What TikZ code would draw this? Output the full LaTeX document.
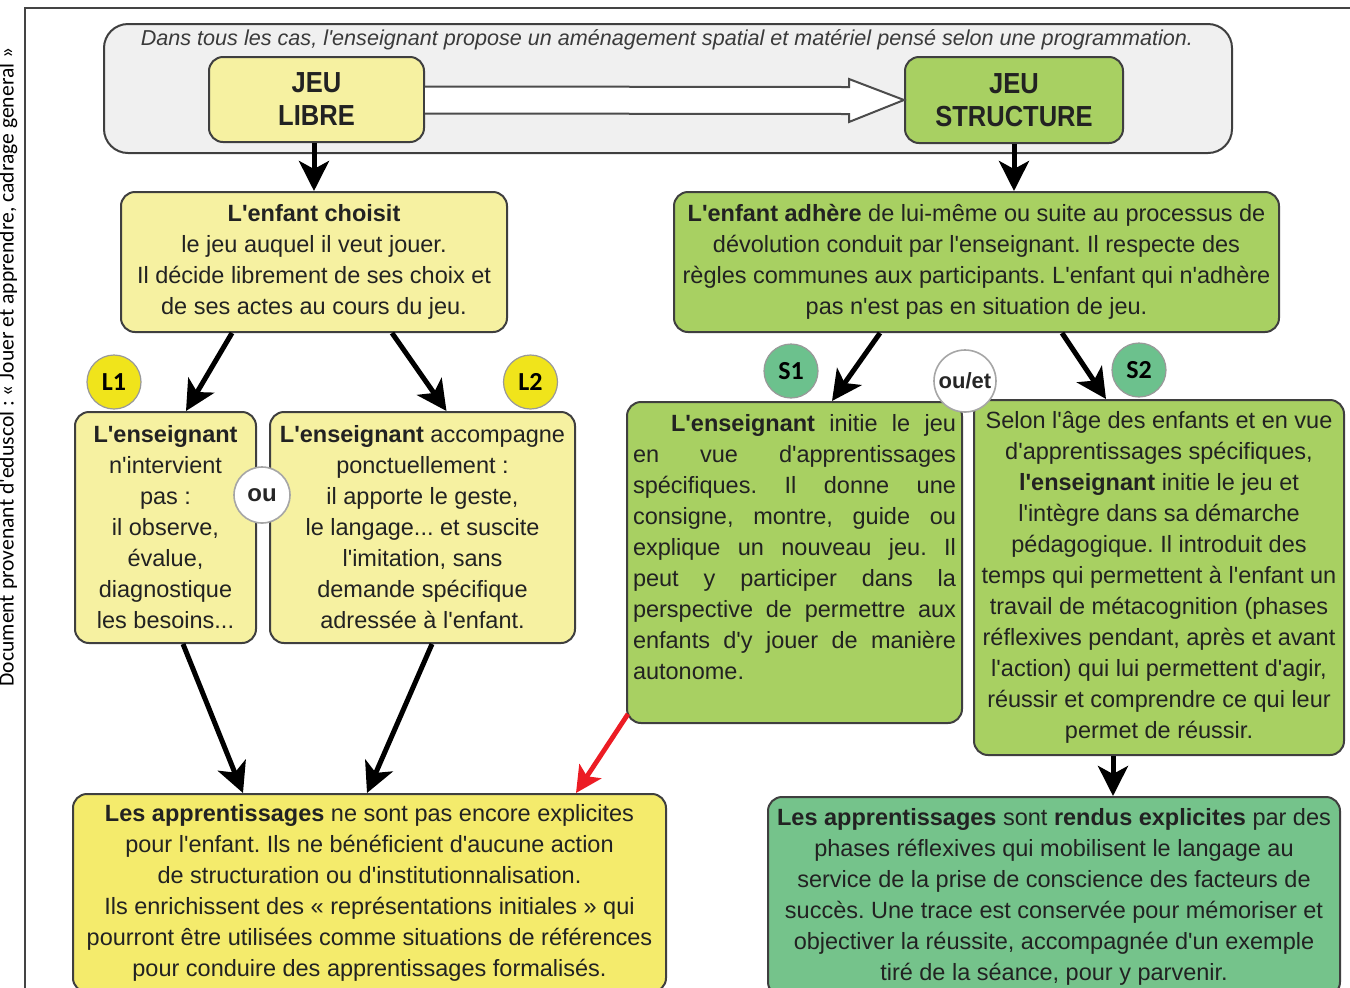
\documentclass[tikz,border=0pt]{standalone}
\usepackage{fontspec}
\setmainfont{Liberation Sans}[Ligatures=TeXOff]
\newfontfamily\titlefont{Liberation Sans}[FakeStretch=0.88,Ligatures=TeXOff]
\newfontfamily\sidefont{Carlito}[Ligatures=TeXOff]
\newfontfamily\tagfont{Carlito}
\usetikzlibrary{arrows.meta,calc}
\frenchspacing
\definecolor{frameline}{HTML}{444444}
\definecolor{boxline}{HTML}{3F3F3F}
\definecolor{paleyellow}{HTML}{F6F1A1}
\definecolor{brightyellow}{HTML}{F4EB6C}
\definecolor{tagyellow}{HTML}{F0E41B}
\definecolor{lightgreen}{HTML}{A8D062}
\definecolor{midgreen}{HTML}{75C38B}
\definecolor{taggreen}{HTML}{6CC18D}
\definecolor{grayfill}{HTML}{F0F0F0}
\definecolor{bodytext}{HTML}{222222}
\definecolor{headtext}{HTML}{3A3A3A}
\definecolor{redarrow}{HTML}{EC1C24}
\newcommand{\bodysize}{\fontsize{11.75pt}{15.5pt}\selectfont}
\newcommand{\titlesize}{\titlefont\bfseries\fontsize{14.5pt}{16.5pt}\selectfont}
\begin{document}
\begin{tikzpicture}[x=0.5pt,y=-0.5pt,
  box/.style={draw=boxline, line width=1pt, rounded corners=7pt, inner sep=0pt,
    text=bodytext, font=\bodysize, align=center},
  titlebox/.style={box, font=\titlesize},
  tag/.style={circle, draw=gray!80, line width=0.6pt, inner sep=0pt,
    minimum size=27pt, font=\tagfont\bfseries\fontsize{13pt}{15pt}\selectfont, text=black},
  joiner/.style={circle, draw=gray!70, fill=white, line width=0.8pt, inner sep=0pt,
    text=black!85},
  bigarrow/.style={line width=2.5pt, draw=black, -{Stealth[length=15pt,width=15pt,inset=4pt]}},
  redline/.style={line width=2.4pt, draw=redarrow, -{Stealth[length=13pt,width=13pt,inset=3pt]}},
  hollow/.style={draw=gray!60!black, fill=white, line width=1pt, line join=miter}
]
\useasboundingbox (0,0) rectangle (1350,987);

% outer frame and source note
\draw[frameline, line width=0.8pt] (25,1000) -- (25,8) -- (1360,8);
\node[rotate=90, font=\sidefont\fontsize{10.8pt}{12pt}\selectfont, text=black] (src) at (8,367)
  {Document provenant d'eduscol : « Jouer et apprendre, cadrage general »};

% top gray band
\node[draw=boxline, fill=grayfill, line width=1pt, rounded corners=12pt,
  minimum width=564pt, minimum height=64.5pt] (band) at (668,88.5) {};
\node[font=\itshape\fontsize{10.8pt}{13pt}\selectfont, text=headtext] (hdr) at (667,40)
  {Dans tous les cas, l'enseignant propose un aménagement spatial et matériel pensé selon une programmation.};

\node[titlebox, fill=paleyellow, minimum width=107.5pt, minimum height=42.5pt] (libre) at (316.5,99.5) {JEU\\LIBRE};
\node[titlebox, fill=lightgreen, minimum width=109pt, minimum height=43pt] (struct) at (1014,100) {JEU\\STRUCTURE};

\draw[hollow] ($(libre.east)+(0,-13)$) -- ($(struct.west)+(-55,-13)$) -- ($(struct.west)+(-55,-21)$)
  -- (struct.west) -- ($(struct.west)+(-55,22)$) -- ($(struct.west)+(-55,14)$) -- ($(libre.east)+(0,14)$);

% second row
\node[box, fill=paleyellow, minimum width=193pt, minimum height=70pt] (choisit) at (314,262)
  {\textbf{L'enfant choisit}\\le jeu auquel il veut jouer.\\Il décide librement de ses choix et\\de ses actes au cours du jeu.};
\node[box, fill=lightgreen, minimum width=302.5pt, minimum height=70pt] (adhere) at (976.5,262)
  {\textbf{L'enfant adhère} de lui-même ou suite au processus de\\dévolution conduit par l'enseignant. Il respecte des\\règles communes aux participants. L'enfant qui n'adhère\\pas n'est pas en situation de jeu.};

\draw[bigarrow] (choisit.north |- libre.south) -- (choisit.north);
\draw[bigarrow] (struct.south) -- (struct.south |- adhere.north);

% L1 / L2
\node[box, fill=paleyellow, minimum width=90.5pt, minimum height=115.5pt] (lone) at (165.5,527.5)
  {\textbf{L'enseignant}\\n'intervient\\pas~:\\il observe,\\évalue,\\diagnostique\\les besoins...};
\node[box, fill=paleyellow, minimum width=152.5pt, minimum height=115.5pt] (ltwo) at (422.5,527.5)
  {\textbf{L'enseignant} accompagne\\ponctuellement~:\\il apporte le geste,\\le langage... et suscite\\l'imitation, sans\\demande spécifique\\adressée à l'enfant.};

\node[tag, fill=tagyellow] (tlone) at (114,382) {L1};
\node[tag, fill=tagyellow] (tltwo) at (530.5,382) {L2};
\node[joiner, minimum size=28pt, font=\bfseries\fontsize{12pt}{14pt}\selectfont] (ou) at (262,495) {ou};

\draw[bigarrow] ($(choisit.south)+(-82,0)$) -- ($(lone.north)+(20.5,0)$);
\draw[bigarrow] ($(choisit.south)+(78,0)$) -- ($(ltwo.north)+(24,0)$);

% S1 / S2
\node[box, fill=lightgreen, minimum width=167.5pt, minimum height=160.5pt] (sone) at (794.5,562.5)
  {\parbox[c][148.5pt][t]{161.5pt}{\bodysize\raggedright
  \hspace*{19pt}\makebox[142.5pt][s]{\textbf{L'enseignant} initie le jeu}\\
  \makebox[161.5pt][s]{en vue d'apprentissages}\\
  \makebox[161.5pt][s]{spécifiques. Il donne une}\\
  \makebox[161.5pt][s]{consigne, montre, guide ou}\\
  \makebox[161.5pt][s]{explique un nouveau jeu. Il}\\
  \makebox[161.5pt][s]{peut y participer dans la}\\
  \makebox[161.5pt][s]{perspective de permettre aux}\\
  \makebox[161.5pt][s]{enfants d'y jouer de manière}\\
  autonome.}};
\node[box, fill=lightgreen, minimum width=185pt, minimum height=177.5pt] (stwo) at (1159,577.5)
  {Selon l'âge des enfants et en vue\\d'apprentissages spécifiques,\\\textbf{l'enseignant} initie le jeu et\\l'intègre dans sa démarche\\pédagogique. Il introduit des\\temps qui permettent à l'enfant un\\travail de métacognition (phases\\réflexives pendant, après et avant\\l'action) qui lui permettent d'agir,\\réussir et comprendre ce qui leur\\permet de réussir.};

\node[tag, fill=taggreen] (tsone) at (791,371) {S1};
\node[tag, fill=taggreen] (tstwo) at (1139,370) {S2};
\node[joiner, minimum size=31pt, font=\bfseries\fontsize{11pt}{13pt}\selectfont] (ouet) at (965,381) {ou/et};

\draw[bigarrow] ($(adhere.south)+(-96.5,0)$) -- ($(sone.north)+(37.5,0)$);
\draw[bigarrow] ($(adhere.south)+(85.5,0)$) -- ($(stwo.north)+(-53,0)$);

% bottom boxes
\node[box, fill=brightyellow, minimum width=296.5pt, minimum height=99pt] (botl) at (369.5,893)
  {\textbf{Les apprentissages} ne sont pas encore explicites\\pour l'enfant. Ils ne bénéficient d'aucune action\\de structuration ou d'institutionnalisation.\\Ils enrichissent des « représentations initiales » qui\\pourront être utilisées comme situations de références\\pour conduire des apprentissages formalisés.};
\node[box, fill=midgreen, minimum width=286pt, minimum height=99.5pt] (botr) at (1054,896.5)
  {\textbf{Les apprentissages} sont \textbf{rendus explicites} par des\\phases réflexives qui mobilisent le langage au\\service de la prise de conscience des facteurs de\\succès. Une trace est conservée pour mémoriser et\\objectiver la réussite, accompagnée d'un exemple\\tiré de la séance, pour y parvenir.};

\draw[bigarrow] ($(lone.south)+(17.5,0)$) -- ($(botl.north)+(-126.5,0)$);
\draw[bigarrow] ($(ltwo.south)+(9.5,0)$) -- ($(botl.north)+(-2.5,0)$);
\draw[redline] ($(sone.south west)+(2,-10)$) -- ($(botl.north)+(206.5,0)$);
\draw[bigarrow] ($(stwo.south)+(-46,0)$) -- ($(botr.north)+(59,0)$);
\end{tikzpicture}
\end{document}
